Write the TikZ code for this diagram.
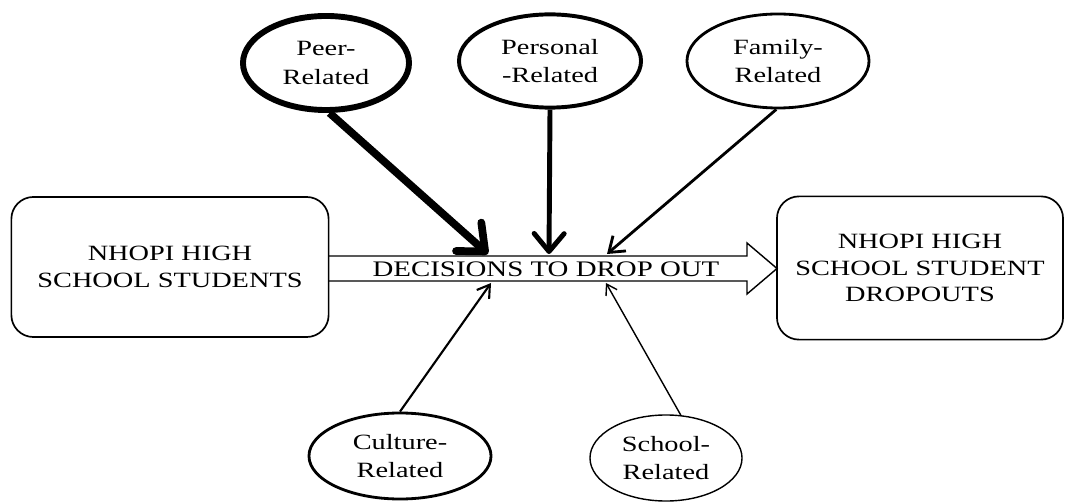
\documentclass[tikz,border=0pt]{standalone}
\usepackage{fontspec}
\setmainfont{Liberation Serif}[FakeStretch=1.3]
\usetikzlibrary{shapes.geometric,arrows.meta}

\begin{document}
\begin{tikzpicture}[x=0.025cm,y=-0.025cm,
  factor/.style={ellipse,draw,inner sep=0pt,align=center,
    font=\fontsize{15.5}{20}\selectfont},
  group/.style={draw,line width=1.2pt,rounded corners=0.55cm,align=center,
    font=\fontsize{15.5}{19}\selectfont},
  push/.style={line width=#1}]
\useasboundingbox (0,0) rectangle (1065,504);
% the big arrow
\draw[line width=1pt](328,256)--(747,256)--(747,243)--(777,268.5)--(747,294)--(747,281)--(328,281);
\node[font=\fontsize{15.8}{18}\selectfont] (decide) at (546,269) {DECISIONS TO DROP OUT};
\node[group,minimum width=7.93cm,minimum height=3.5cm] (students) at (170,267) {NHOPI HIGH\\SCHOOL STUDENTS};
\node[group,minimum width=7.15cm,minimum height=3.58cm] (dropouts) at (920,268) {NHOPI HIGH\\SCHOOL STUDENT\\DROPOUTS};
% the factors
\node[factor,line width=4.2pt,minimum width=4.15cm,minimum height=2.35cm] (peer) at (326,63) {Peer-\\Related};
\node[factor,line width=2.8pt,minimum width=4.55cm,minimum height=2.33cm] (personal) at (550,61) {Personal\\-Related};
\node[factor,line width=2pt,minimum width=4.55cm,minimum height=2.35cm] (family) at (778,61) {Family-\\Related};
\node[factor,line width=2pt,minimum width=4.55cm,minimum height=2.15cm] (culture) at (400,456) {Culture-\\Related};
\node[factor,line width=1pt,minimum width=3.8cm,minimum height=2.15cm] (school) at (666,458) {School-\\Related};
\coordinate (inpeer) at (488,254);
\coordinate (inpersonal) at (549,254);
\coordinate (infamily) at (607,254);
\coordinate (inculture) at (491,283);
\coordinate (inschool) at (606,283);
\draw[push=5.5pt,-{Straight Barb[round,length=0.55cm,width=0.95cm]}] (peer.-86) -- (inpeer);
\draw[push=3.5pt,-{Straight Barb[round,length=0.45cm,width=0.75cm]}] (personal.south) -- (inpersonal);
\draw[push=2pt,-{Straight Barb[length=0.35cm,width=0.5cm]}] (family.-92) -- (infamily);
\draw[push=1.5pt,-{Straight Barb[length=0.3cm,width=0.38cm]}] (culture.north) -- (inculture);
\draw[push=1pt,-{Straight Barb[length=0.25cm,width=0.32cm]}] (school.71) -- (inschool);
\end{tikzpicture}
\end{document}
